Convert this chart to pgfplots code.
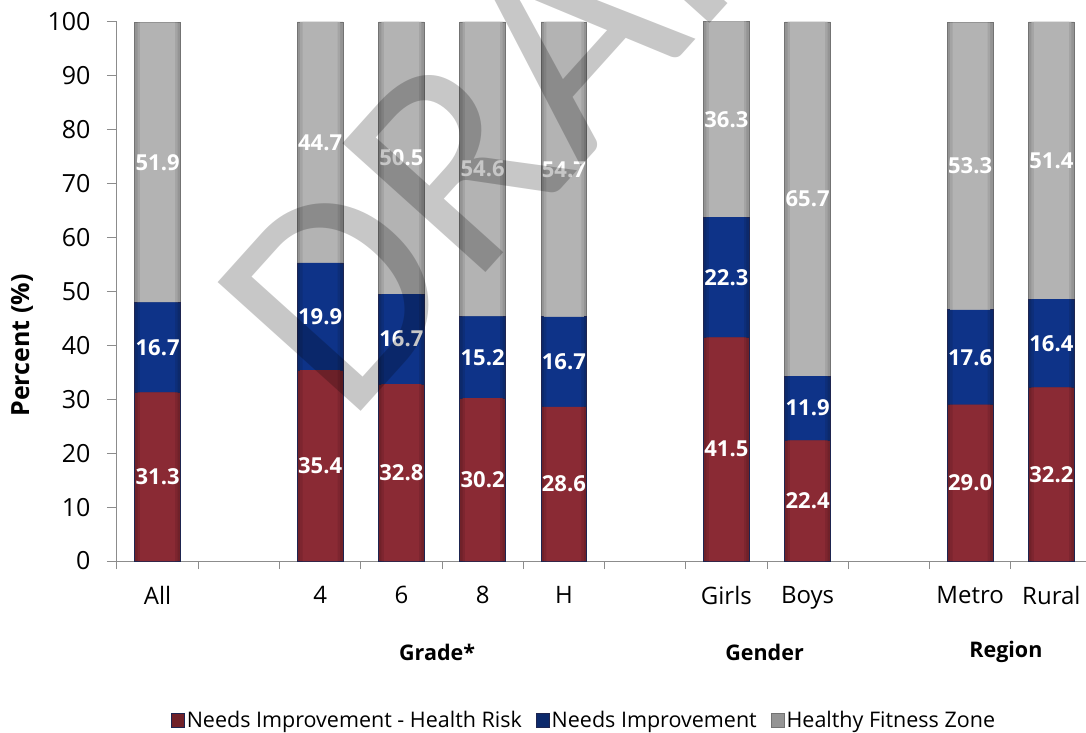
\documentclass[border=0pt]{standalone}
\usepackage{pgfplots}
\pgfplotsset{compat=1.18}
\usepackage{pgfplotstable}
\usepackage{fontspec}
\setmainfont{Open Sans}
\newfontfamily\carlito{Carlito}
\definecolor{redM}{HTML}{8A2A34}
\definecolor{redE}{HTML}{5E1B22}
\definecolor{bluM}{HTML}{0E3388}
\definecolor{bluE}{HTML}{0A2257}
\definecolor{gryM}{HTML}{B3B3B3}
\definecolor{gryE}{HTML}{878787}
\definecolor{outl}{HTML}{1E2550}
\definecolor{axgray}{HTML}{8C8C8C}
\pgfplotstableread{
x red blue gray
0 31.3 16.7 51.9
2 35.4 19.9 44.7
3 32.8 16.7 50.5
4 30.2 15.2 54.6
5 28.6 16.7 54.7
7 41.5 22.3 36.3
8 22.4 11.9 65.7
10 29.0 17.6 53.3
11 32.2 16.4 51.4
}\data
\pgfplotsset{
  base/.style={
    scale only axis, width=975bp, height=539bp,
    at={(0,0)}, anchor=south west,
    xmin=-0.5, xmax=11.5, ymin=0, ymax=100,
    clip=false,
  },
  common/.style={base, ybar stacked},
}
\begin{document}
\begin{tikzpicture}
% layer 1: full bars (edge colour), axes, ticks, legend
\begin{axis}[
  common, bar width=45.7bp,
  ytick={0,10,...,100},
  xtick={0,2,3,4,5,7,8,10,11},
  xticklabels={All,4,6,8,H,Girls,Boys,Metro,Rural},
  minor xtick={-0.5,0.5,...,11.5},
  axis x line=bottom, axis y line=left,
  axis line style={axgray, line width=1bp, -},
  tick align=outside,
  major tick length=10bp, minor tick length=8bp,
  tick style={axgray, line width=1bp},
  major x tick style={draw=none},
  tick label style={font=\fontsize{24bp}{28bp}\selectfont},
  yticklabel style={font=\fontsize{25bp}{29bp}\selectfont, xshift=-13bp},
  xticklabel style={yshift=-12bp},
  /pgf/number format/assume math mode=true,
  ylabel={\bfseries Percent (\%)},
  ylabel style={font=\fontsize{25bp}{29bp}\selectfont, at={(axis description cs:-0.0974,0.40)}, anchor=center},
  legend style={at={(0.479,-0.295)}, anchor=center, draw=none, fill=none,
    font=\fontsize{21.5bp}{25bp}\selectfont, legend columns=-1,
    /tikz/every even column/.append style={column sep=12bp},
    inner sep=0pt},
  legend image code/.code={\draw[#1] (0bp,-7bp) rectangle (13bp,7bp);},
]
\addplot[draw=outl, line width=0.8bp, fill=redE!60!redM] table[x=x,y=red]{\data};
\addplot[draw=outl, line width=0.8bp, fill=bluE!60!bluM] table[x=x,y=blue]{\data};
\addplot[draw=gryE!85!black, line width=0.8bp, fill=gryE!70!gryM] table[x=x,y=gray]{\data};
\legend{Needs Improvement - Health Risk, Needs Improvement, Healthy Fitness Zone}
\coordinate (BL) at (rel axis cs:0,0);
\coordinate (wm) at (axis cs:2.34,25.0);
\coordinate (g1) at (axis cs:3.44,-16.9);
\coordinate (g2) at (axis cs:7.47,-16.9);
\coordinate (g3) at (axis cs:10.44,-16.9);
\end{axis}
% layer 2: intermediate
\begin{axis}[common, hide axis, bar width=40bp]
\addplot[draw=none, fill=redE!30!redM] table[x=x,y=red]{\data};
\addplot[draw=none, fill=bluE!30!bluM] table[x=x,y=blue]{\data};
\addplot[draw=none, fill=gryE!35!gryM] table[x=x,y=gray]{\data};
\end{axis}
% layer 3: bar core
\begin{axis}[common, hide axis, bar width=35bp]
\addplot[draw=none, fill=redM] table[x=x,y=red]{\data};
\addplot[draw=none, fill=bluM] table[x=x,y=blue]{\data};
\addplot[draw=none, fill=gryM] table[x=x,y=gray]{\data};
\end{axis}
% layer 4: data labels at the middle of each segment
\begin{axis}[base, hide axis,
  /pgf/number format/assume math mode=true,
  nodes near coords={\pgfmathprintnumber[fixed,fixed zerofill,precision=1]{\pgfplotspointmeta}},
  every node near coord/.append style={font=\fontsize{22bp}{26bp}\selectfont\bfseries, text=white, anchor=center, inner sep=0pt},
]
\addplot[only marks, mark=none, point meta=\thisrow{red}] table[x=x, y expr=\thisrow{red}/2]{\data};
\addplot[only marks, mark=none, point meta=\thisrow{blue}] table[x=x, y expr=\thisrow{red}+\thisrow{blue}/2]{\data};
\addplot[only marks, mark=none, point meta=\thisrow{gray}] table[x=x, y expr=\thisrow{red}+\thisrow{blue}+\thisrow{gray}/2]{\data};
\end{axis}
\begin{scope}[font=\fontsize{21.5bp}{25bp}\selectfont\bfseries]
\node at (g1) {Grade*};
\node at (g2) {Gender};
\node at (g3) {Region};
\end{scope}
\node[rotate=48, anchor=base west, inner sep=0pt, font=\carlito\fontsize{300bp}{300bp}\selectfont, text=black, text opacity=0.22] at (wm) {DRAFT};
\pgfresetboundingbox
\path[use as bounding box] ([shift={(-117bp,-172bp)}]BL) rectangle ([shift={(969bp,561bp)}]BL);
\end{tikzpicture}
\end{document}
